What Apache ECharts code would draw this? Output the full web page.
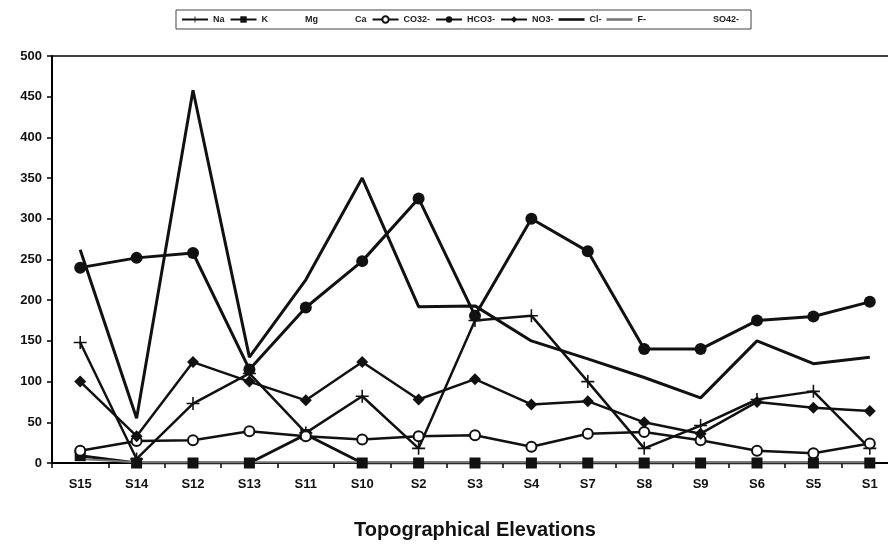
<!DOCTYPE html>
<html>
<head>
<meta charset="utf-8">
<script src="https://cdn.jsdelivr.net/npm/echarts@6/dist/echarts.min.js"></script>
<style>
  html, body { margin: 0; padding: 0; background: #fff; overflow: hidden; }
  #chart { width: 898px; height: 545px; }
</style>
</head>
<body>
<div id="chart"></div>
<script>
// sampling sites, ordered by elevation
const sites = ['S15', 'S14', 'S12', 'S13', 'S11', 'S10', 'S2', 'S3', 'S4', 'S7', 'S8', 'S9', 'S6', 'S5', 'S1']

// ion concentrations
const na = [148, 5, 73, 110, 37, 82, 18, 175, 181, 100, 18, 46, 78, 88, 18]
const k = [9, 0, 0, 0, 35, 0, 0, 0, 0, 0, 0, 0, 0, 0, 0]
const mg = []
const ca = []
const co3 = [15, 27, 28, 39, 33, 29, 33, 34, 20, 36, 38, 28, 15, 12, 24]
const hco3 = [240, 252, 258, 115, 191, 248, 325, 181, 300, 260, 140, 140, 175, 180, 198]
const no3 = [100, 33, 124, 100, 77, 124, 78, 103, 72, 76, 50, 36, 75, 68, 64]
const cl = [262, 55, 458, 130, 225, 350, 192, 193, 150, 128, 105, 80, 150, 122, 130]
const f = [5, 1, 1, 1, 1, 1, 1, 1, 1, 1, 1, 1, 1, 1, 1]
const so4 = []

const yTicks = [0, 50, 100, 150, 200, 250, 300, 350, 400, 450, 500]

const ink = '#111'
const hidden = 'rgba(0,0,0,0)'
const plus = 'path://M4.4,0h1.2v4.4h4.4v1.2h-4.4v4.4h-1.2v-4.4h-4.4v-1.2h4.4z'
const bar = 'path://M0,0h30v3h-30z'

function line(name, data, opts) {
  return Object.assign({
    name: name,
    type: 'line',
    data: data,
    symbol: 'none',
    symbolSize: 10,
    color: ink,
    lineStyle: { color: ink, width: 3 },
    itemStyle: { color: ink },
    z: 3
  }, opts)
}

const chart = echarts.init(document.getElementById('chart'))
chart.setOption({
  animation: false,
  backgroundColor: '#fff',
  legend: {
    top: 10,
    left: 176,
    itemWidth: 26,
    itemHeight: 8,
    itemGap: 5,
    padding: [5, 12, 5, 5],
    borderColor: '#444',
    borderWidth: 1,
    textStyle: { fontFamily: 'Liberation Sans', fontSize: 9, fontWeight: 'bold', color: '#222' },
    data: ['Na', 'K', 'Mg', 'Ca', 'CO32-', 'HCO3-', 'NO3-',
      { name: 'Cl-', icon: bar }, { name: 'F-', icon: bar },
      { name: 'SO42-', textStyle: { padding: [0, 0, 0, 30] } }]
  },
  grid: {
    left: 52,
    top: 56,
    right: 0,
    bottom: 75,
    show: true,
    borderColor: '#000',
    borderWidth: 1.5
  },
  xAxis: {
    type: 'category',
    data: sites,
    boundaryGap: true,
    name: 'Topographical Elevations',
    nameLocation: 'middle',
    nameGap: 57,
    nameTextStyle: { fontFamily: 'Liberation Sans', fontSize: 20, fontWeight: 'bold', color: '#111' },
    axisLine: { lineStyle: { color: '#000', width: 2 } },
    axisTick: { show: true, length: 5, lineStyle: { color: '#000', width: 1.5 } },
    axisLabel: { fontFamily: 'Liberation Sans', fontSize: 13, fontWeight: 'bold', color: '#111', margin: 15 }
  },
  yAxis: {
    type: 'value',
    min: yTicks[0],
    max: yTicks[yTicks.length - 1],
    interval: 50,
    axisLine: { show: true, lineStyle: { color: '#000', width: 2 } },
    axisTick: { show: true, length: 5, lineStyle: { color: '#000', width: 1.5 } },
    splitLine: { show: false },
    axisLabel: { fontFamily: 'Liberation Sans', fontSize: 13, fontWeight: 'bold', color: '#111', margin: 10 }
  },
  series: [
    line('Na', na, { symbol: plus, symbolSize: 13, lineStyle: { color: ink, width: 2.5 } }),
    line('K', k, { symbol: 'rect', symbolSize: 11 }),
    line('Mg', mg, { color: hidden, lineStyle: { color: hidden }, itemStyle: { color: hidden } }),
    line('Ca', ca, { color: hidden, lineStyle: { color: hidden }, itemStyle: { color: hidden } }),
    line('CO32-', co3, {
      symbol: 'emptyCircle', symbolSize: 10,
      lineStyle: { color: ink, width: 2.5 },
      itemStyle: { color: ink, borderWidth: 1.5 }
    }),
    line('HCO3-', hco3, { symbol: 'circle', symbolSize: 12 }),
    line('NO3-', no3, { symbol: 'diamond', symbolSize: 12, lineStyle: { color: ink, width: 2.5 } }),
    line('Cl-', cl, {}),
    line('F-', f, { color: '#777', lineStyle: { color: '#777', width: 2 }, itemStyle: { color: '#777' } }),
    line('SO42-', so4, { color: hidden, lineStyle: { color: hidden }, itemStyle: { color: hidden } })
  ]
})
</script>
</body>
</html>
